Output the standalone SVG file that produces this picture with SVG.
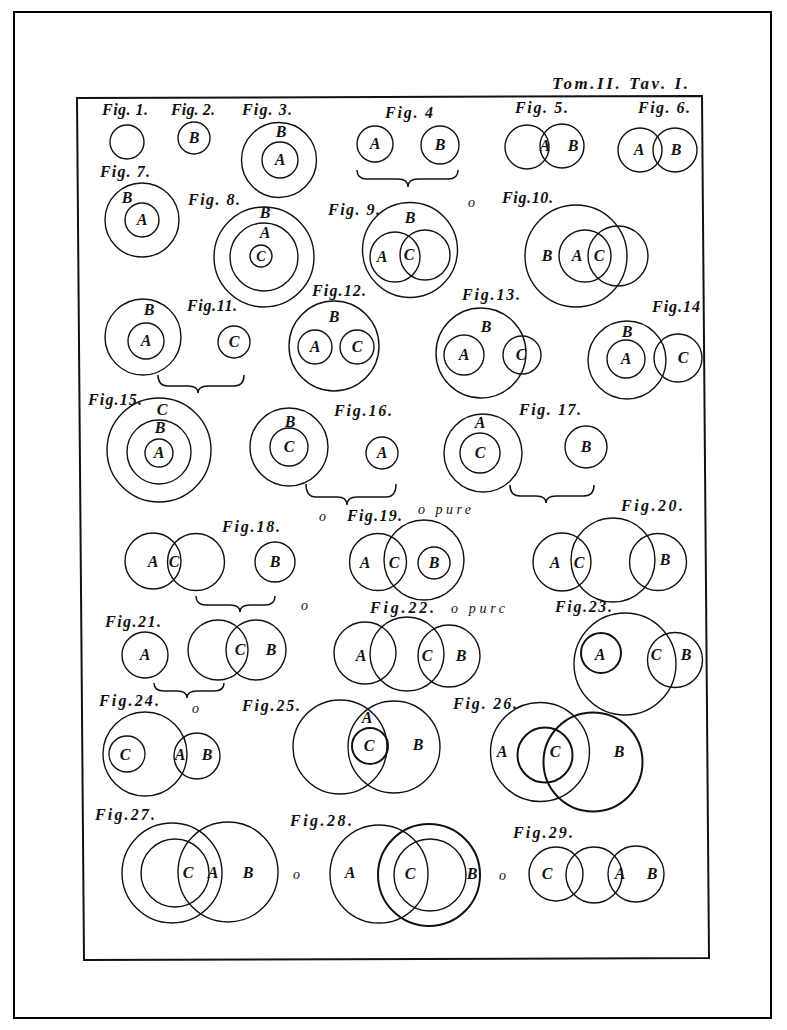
<svg xmlns="http://www.w3.org/2000/svg" width="787" height="1030" viewBox="0 0 787 1030">
<style>
.c{fill:none;stroke:#111;stroke-width:1.4}
.b{fill:none;stroke:#111;stroke-width:2}
.t{font-family:"Liberation Serif",serif;font-style:italic;font-weight:bold;font-size:16px;fill:#111;text-anchor:middle}
.f{font-family:"Liberation Serif",serif;font-style:italic;font-weight:bold;font-size:16px;fill:#111}
.o{font-family:"Liberation Serif",serif;font-style:italic;font-size:14px;fill:#111}
.br{fill:none;stroke:#111;stroke-width:1.5}
</style>
<rect x="14" y="12" width="757" height="1006" fill="#fff" stroke="#000" stroke-width="2"/>
<g id="plate">
<polygon points="77,98 702,96 709,958 84,960" fill="none" stroke="#111" stroke-width="2"/>
<text class="f" x="552" y="89" textLength="136" lengthAdjust="spacing" style="font-size:17px">Tom.II. Tav. I.</text>
</g>
<g id="fig1"><text class="f" x="102" y="115" textLength="46">Fig. 1.</text><circle class="c" cx="127" cy="142" r="17"/></g>
<g id="fig2"><text class="f" x="171" y="115" textLength="44">Fig. 2.</text><circle class="c" cx="194" cy="138" r="16"/><text class="t" x="194" y="143">B</text></g>
<g id="fig3"><text class="f" x="242" y="115" textLength="50">Fig. 3.</text><circle class="c" cx="279" cy="160" r="37.5"/><circle class="c" cx="280" cy="160" r="18"/><text class="t" x="280" y="165">A</text><text class="t" x="281" y="137">B</text></g>
<g id="fig4"><text class="f" x="385" y="118" textLength="48">Fig. 4</text><circle class="c" cx="375" cy="144" r="18"/><text class="t" x="375" y="149">A</text><circle class="c" cx="440" cy="145" r="19"/><text class="t" x="440" y="150">B</text></g>
<g id="fig5"><text class="f" x="515" y="113" textLength="53">Fig. 5.</text><circle class="c" cx="527" cy="147" r="22"/><circle class="c" cx="562" cy="146" r="22"/><text class="t" x="545" y="151">A</text><text class="t" x="573" y="151">B</text></g>
<g id="fig6"><text class="f" x="638" y="113" textLength="52">Fig. 6.</text><circle class="c" cx="640" cy="150" r="22"/><circle class="c" cx="675" cy="150" r="22"/><text class="t" x="639" y="155">A</text><text class="t" x="676" y="155">B</text></g>
<g id="fig7"><text class="f" x="100" y="177" textLength="50">Fig. 7.</text><circle class="c" cx="142" cy="220" r="37"/><circle class="c" cx="142" cy="220" r="17"/><text class="t" x="142" y="225">A</text><text class="t" x="127" y="203">B</text></g>
<g id="fig8"><text class="f" x="188" y="205" textLength="52">Fig. 8.</text><circle class="c" cx="264" cy="257" r="50"/><circle class="c" cx="264" cy="257" r="34"/><circle class="c" cx="261" cy="256" r="11"/><text class="t" x="261" y="261" style="font-size:14px">C</text><text class="t" x="265" y="218">B</text><text class="t" x="265" y="238">A</text></g>
<g id="fig9"><text class="f" x="328" y="215" textLength="52">Fig. 9.</text><circle class="c" cx="410" cy="250" r="47.5"/><circle class="c" cx="395" cy="257" r="25"/><circle class="c" cx="425" cy="255" r="25"/><text class="t" x="382" y="262">A</text><text class="t" x="409" y="260">C</text><text class="t" x="410" y="223">B</text></g>
<g id="fig10"><text class="o" x="468" y="207">o</text><text class="f" x="502" y="203" textLength="51">Fig.10.</text><circle class="c" cx="576" cy="256" r="51"/><circle class="c" cx="585" cy="256" r="26"/><circle class="c" cx="618" cy="256" r="30"/><text class="t" x="547" y="261">B</text><text class="t" x="577" y="261">A</text><text class="t" x="599" y="261">C</text></g>
<g id="fig11"><text class="f" x="187" y="311" textLength="50">Fig.11.</text><circle class="c" cx="143" cy="337" r="38"/><circle class="c" cx="146" cy="341" r="18"/><text class="t" x="146" y="346">A</text><text class="t" x="149" y="315">B</text><circle class="c" cx="234" cy="342" r="16"/><text class="t" x="234" y="347">C</text></g>
<g id="fig12"><text class="f" x="312" y="296" textLength="54">Fig.12.</text><circle class="c" cx="334" cy="346" r="45"/><circle class="c" cx="315" cy="347" r="17"/><circle class="c" cx="357" cy="347" r="17"/><text class="t" x="315" y="352">A</text><text class="t" x="357" y="352">C</text><text class="t" x="334" y="322">B</text></g>
<g id="fig13"><text class="f" x="462" y="300" textLength="58">Fig.13.</text><circle class="c" cx="481" cy="353" r="45"/><circle class="c" cx="464" cy="355" r="20"/><circle class="c" cx="522" cy="355" r="19"/><text class="t" x="464" y="360">A</text><text class="t" x="521" y="360">C</text><text class="t" x="486" y="332">B</text></g>
<g id="fig14"><text class="f" x="652" y="312" textLength="48">Fig.14</text><circle class="c" cx="627" cy="360" r="39"/><circle class="c" cx="626" cy="359" r="19"/><circle class="c" cx="678" cy="358" r="24"/><text class="t" x="626" y="364">A</text><text class="t" x="683" y="363">C</text><text class="t" x="627" y="337">B</text></g>
<g id="fig15"><text class="f" x="88" y="405" textLength="54">Fig.15.</text><circle class="c" cx="159" cy="450" r="52"/><circle class="c" cx="159" cy="452" r="32"/><circle class="c" cx="159" cy="453" r="14"/><text class="t" x="162" y="415">C</text><text class="t" x="160" y="433">B</text><text class="t" x="159" y="458">A</text></g>
<g id="fig16"><text class="f" x="334" y="416" textLength="58">Fig.16.</text><circle class="c" cx="289" cy="447" r="39"/><circle class="c" cx="289" cy="447" r="19"/><text class="t" x="289" y="452">C</text><text class="t" x="290" y="427">B</text><circle class="c" cx="382" cy="453" r="16"/><text class="t" x="382" y="458">A</text></g>
<g id="fig17"><text class="f" x="519" y="415" textLength="62">Fig. 17.</text><circle class="c" cx="483" cy="453" r="39"/><circle class="c" cx="480" cy="453" r="20"/><text class="t" x="480" y="458">C</text><text class="t" x="480" y="428">A</text><circle class="c" cx="586" cy="447" r="21"/><text class="t" x="586" y="452">B</text></g>
<g id="fig18"><text class="f" x="222" y="532" textLength="58">Fig.18.</text><circle class="c" cx="153" cy="561" r="28"/><circle class="c" cx="196" cy="562" r="28.5"/><text class="t" x="153" y="567">A</text><text class="t" x="174" y="567">C</text><circle class="c" cx="275" cy="562" r="20"/><text class="t" x="275" y="567">B</text></g>
<g id="fig19"><text class="o" x="319" y="521">o</text><text class="f" x="347" y="521" textLength="55">Fig.19.</text><text class="o" x="418" y="514" textLength="53">o pure</text><circle class="c" cx="378" cy="562" r="28.5"/><circle class="c" cx="424" cy="560" r="40"/><circle class="c" cx="434" cy="563" r="16"/><text class="t" x="365" y="568">A</text><text class="t" x="394" y="568">C</text><text class="t" x="434" y="568">B</text></g>
<g id="fig20"><text class="f" x="621" y="511" textLength="62">Fig.20.</text><circle class="c" cx="562" cy="562" r="29"/><circle class="c" cx="613" cy="560" r="42"/><circle class="c" cx="658" cy="562" r="28.5"/><text class="t" x="555" y="568">A</text><text class="t" x="579" y="568">C</text><text class="t" x="665" y="565">B</text></g>
<g id="fig21"><text class="o" x="301" y="610">o</text><text class="f" x="105" y="627" textLength="56">Fig.21.</text><circle class="c" cx="145" cy="655" r="23"/><text class="t" x="145" y="660">A</text><circle class="c" cx="218" cy="650" r="30"/><circle class="c" cx="256" cy="650" r="30"/><text class="t" x="240" y="655">C</text><text class="t" x="271" y="655">B</text></g>
<g id="fig22"><text class="f" x="370" y="613" textLength="64">Fig.22.</text><text class="o" x="451" y="613" textLength="54">o purc</text><circle class="c" cx="365" cy="653" r="31"/><circle class="c" cx="407" cy="654" r="37"/><circle class="c" cx="449" cy="656" r="31"/><text class="t" x="361" y="661">A</text><text class="t" x="427" y="661">C</text><text class="t" x="461" y="661">B</text></g>
<g id="fig23"><text class="f" x="555" y="612" textLength="57">Fig.23.</text><circle class="c" cx="625" cy="664" r="51"/><circle class="b" cx="601" cy="653" r="20"/><circle class="c" cx="675" cy="660" r="27.5"/><text class="t" x="600" y="660">A</text><text class="t" x="656" y="660">C</text><text class="t" x="686" y="660">B</text></g>
<g id="fig24"><text class="f" x="99" y="706" textLength="60">Fig.24.</text><text class="o" x="192" y="713">o</text><circle class="c" cx="145" cy="754" r="42"/><circle class="c" cx="127" cy="754" r="18"/><circle class="c" cx="197" cy="756" r="23"/><text class="t" x="125" y="760">C</text><text class="t" x="180" y="760">A</text><text class="t" x="207" y="760">B</text></g>
<g id="fig25"><text class="f" x="242" y="711" textLength="58">Fig.25.</text><circle class="c" cx="340" cy="747" r="47"/><circle class="c" cx="394" cy="747" r="46"/><circle class="b" cx="370" cy="746" r="18"/><text class="t" x="367" y="723">A</text><text class="t" x="369" y="751">C</text><text class="t" x="418" y="750">B</text></g>
<g id="fig26"><text class="f" x="453" y="709" textLength="64">Fig. 26.</text><circle class="c" cx="540" cy="752" r="49.5"/><circle class="b" cx="593" cy="762" r="49.5"/><circle class="b" cx="545" cy="755" r="27.5"/><text class="t" x="502" y="757">A</text><text class="t" x="555" y="757">C</text><text class="t" x="619" y="757">B</text></g>
<g id="fig27"><text class="f" x="95" y="820" textLength="60">Fig.27.</text><circle class="c" cx="172" cy="873" r="50"/><circle class="c" cx="228" cy="872" r="50"/><circle class="c" cx="175" cy="873" r="34"/><text class="t" x="188" y="878">C</text><text class="t" x="213" y="878">A</text><text class="t" x="248" y="878">B</text><text class="o" x="293" y="879">o</text></g>
<g id="fig28"><text class="f" x="290" y="826" textLength="62">Fig.28.</text><circle class="c" cx="379" cy="874" r="49"/><circle class="b" cx="429" cy="875" r="51"/><circle class="c" cx="430" cy="875" r="36"/><text class="t" x="350" y="878">A</text><text class="t" x="410" y="879">C</text><text class="t" x="472" y="879">B</text><text class="o" x="499" y="880">o</text></g>
<g id="fig29"><text class="f" x="513" y="838" textLength="60">Fig.29.</text><circle class="c" cx="556" cy="874" r="27"/><circle class="c" cx="594" cy="875" r="28"/><circle class="c" cx="636" cy="874" r="28"/><text class="t" x="547" y="879">C</text><text class="t" x="620" y="879">A</text><text class="t" x="652" y="879">B</text></g>
<g id="braces">
<path class="br" d="M357,170 Q357,179 367,179 L398,179 Q408,179 408,187 Q408,179 418,179 L448,179 Q458,179 458,170"/>
<path class="br" d="M158,375 Q158,386 168,386 L188,386 Q198,386 198,393 Q198,386 208,386 L234,386 Q244,386 244,375"/>
<path class="br" d="M306,484 Q306,497 316,497 L337,497 Q347,497 347,505 Q347,497 357,497 L386,497 Q396,497 396,484"/>
<path class="br" d="M510,485 Q510,496 520,496 L536,496 Q546,496 546,503 Q546,496 556,496 L584,496 Q594,496 594,485"/>
<path class="br" d="M196,596 Q196,605 206,605 L230,605 Q240,605 240,612 Q240,605 250,605 L265,605 Q275,605 275,596"/>
<path class="br" d="M154,683 Q154,691 164,691 L177,691 Q187,691 187,698 Q187,691 197,691 L214,691 Q224,691 224,683"/>
</g>
</svg>
